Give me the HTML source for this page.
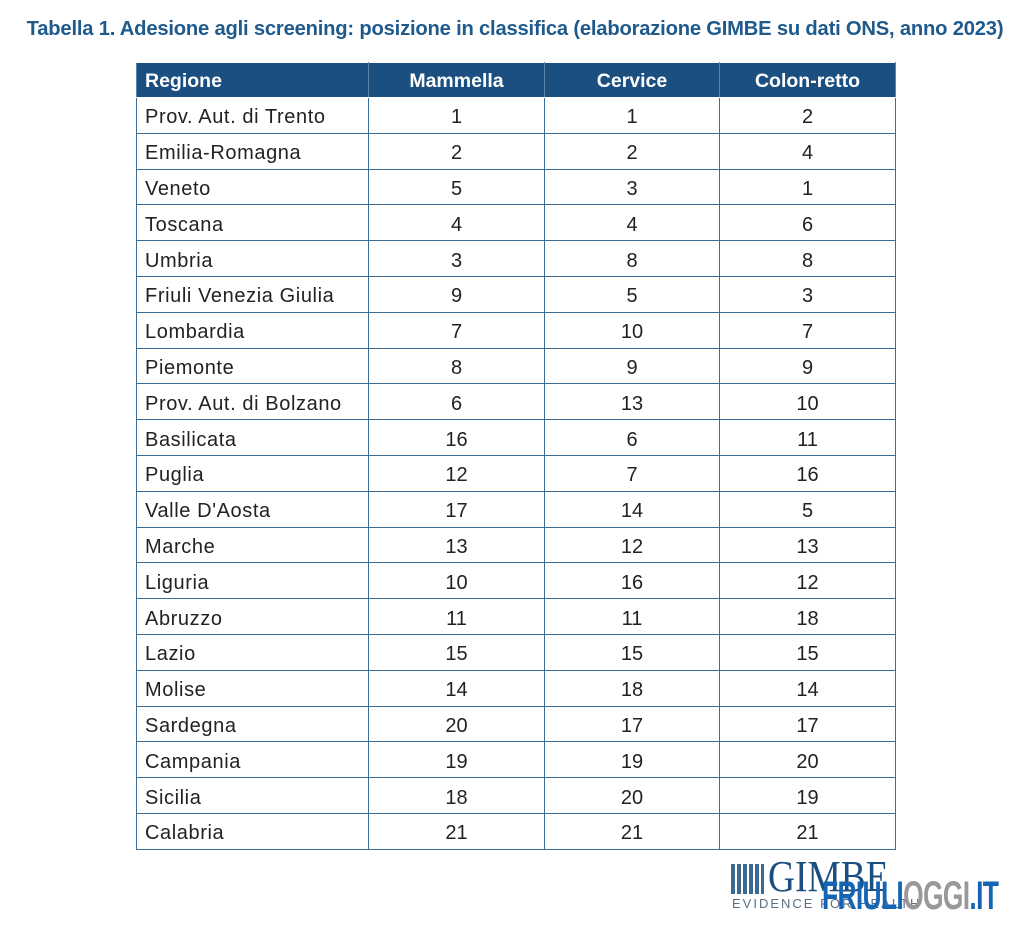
<!DOCTYPE html>
<html><head><meta charset="utf-8"><style>
body{margin:0;width:1024px;height:926px;background:#fff;position:relative;overflow:hidden;font-family:"Liberation Sans",sans-serif}
.t{position:absolute;left:0;top:18px;width:1030px;text-align:center;font-weight:bold;font-size:20.2px;color:#1f5a8c;white-space:nowrap;letter-spacing:-0.2px}
table{position:absolute;left:136px;top:62px;border-collapse:collapse;table-layout:fixed}
td,th{border:1.5px solid #3d6d99;padding:0;font-size:20px;color:#222;text-align:center;vertical-align:middle;line-height:22px}
td{padding-top:4px;height:30.8px}
td:first-child{letter-spacing:0.6px}
th{background:#1b4f80;color:#fff;font-weight:bold;font-size:19.5px;border-color:#fff #5a82a8;padding-top:2px;height:32px}
td:first-child,th:first-child{text-align:left;padding-left:8px}
</style></head><body>
<div class="t">Tabella 1. Adesione agli screening: posizione in classifica (elaborazione GIMBE su dati ONS, anno 2023)</div>
<table>
<colgroup><col style="width:232px"><col style="width:176px"><col style="width:175px"><col style="width:176px"></colgroup>
<tr><th>Regione</th><th>Mammella</th><th>Cervice</th><th>Colon-retto</th></tr>
<tr><td>Prov. Aut. di Trento</td><td>1</td><td>1</td><td>2</td></tr>
<tr><td>Emilia-Romagna</td><td>2</td><td>2</td><td>4</td></tr>
<tr><td>Veneto</td><td>5</td><td>3</td><td>1</td></tr>
<tr><td>Toscana</td><td>4</td><td>4</td><td>6</td></tr>
<tr><td>Umbria</td><td>3</td><td>8</td><td>8</td></tr>
<tr><td>Friuli Venezia Giulia</td><td>9</td><td>5</td><td>3</td></tr>
<tr><td>Lombardia</td><td>7</td><td>10</td><td>7</td></tr>
<tr><td>Piemonte</td><td>8</td><td>9</td><td>9</td></tr>
<tr><td>Prov. Aut. di Bolzano</td><td>6</td><td>13</td><td>10</td></tr>
<tr><td>Basilicata</td><td>16</td><td>6</td><td>11</td></tr>
<tr><td>Puglia</td><td>12</td><td>7</td><td>16</td></tr>
<tr><td>Valle D'Aosta</td><td>17</td><td>14</td><td>5</td></tr>
<tr><td>Marche</td><td>13</td><td>12</td><td>13</td></tr>
<tr><td>Liguria</td><td>10</td><td>16</td><td>12</td></tr>
<tr><td>Abruzzo</td><td>11</td><td>11</td><td>18</td></tr>
<tr><td>Lazio</td><td>15</td><td>15</td><td>15</td></tr>
<tr><td>Molise</td><td>14</td><td>18</td><td>14</td></tr>
<tr><td>Sardegna</td><td>20</td><td>17</td><td>17</td></tr>
<tr><td>Campania</td><td>19</td><td>19</td><td>20</td></tr>
<tr><td>Sicilia</td><td>18</td><td>20</td><td>19</td></tr>
<tr><td>Calabria</td><td>21</td><td>21</td><td>21</td></tr>
</table>
<div style="position:absolute;left:731px;top:864px;width:33px;height:30px;background:repeating-linear-gradient(90deg,#1b4f80 0 4px,#fff 4px 6px),#1b4f80;opacity:.85"></div>
<div style="position:absolute;left:768px;top:856px;font-family:'Liberation Serif',serif;font-size:44px;color:#1b4f80;line-height:42px;transform:scaleX(0.85);transform-origin:left">GIMBE</div>
<div style="position:absolute;left:732px;top:896px;font-size:13px;color:#5a6f85;letter-spacing:2px">EVIDENCE FOR HEALTH</div>
<div style="position:absolute;left:822px;top:876px;font-size:40px;font-weight:bold;line-height:40px;letter-spacing:-1px;transform:scaleX(0.66);transform-origin:left;white-space:nowrap"><span style="color:#1565b4">FRIULI</span><span style="color:#999">OGGI</span><span style="color:#1565b4">.IT</span></div>
</body></html>
